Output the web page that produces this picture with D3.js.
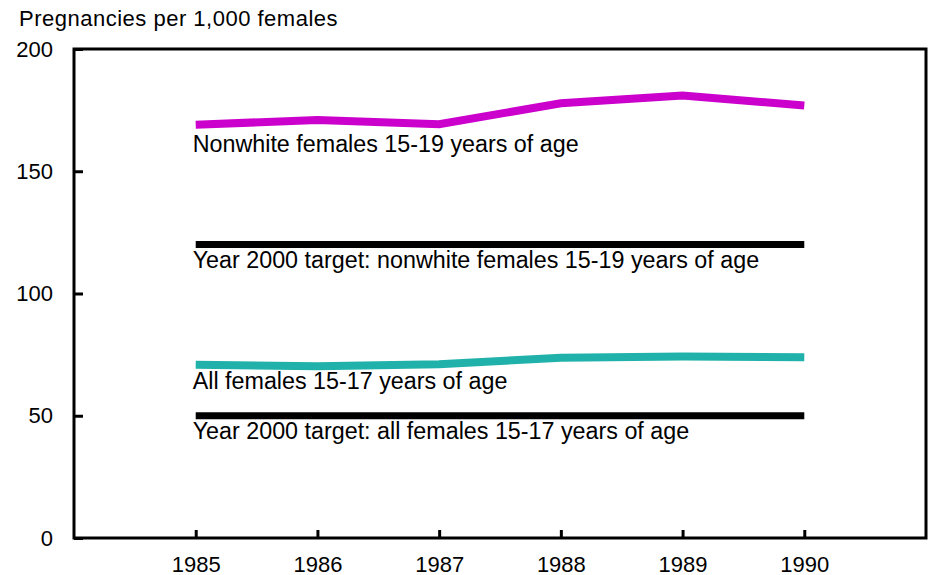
<!DOCTYPE html>
<html>
<head>
<meta charset="utf-8">
<script src="https://cdn.jsdelivr.net/npm/d3@7"></script>
<style>
  body { margin: 0; background: #fff; }
  svg text { font-family: "Liberation Sans", Arial, sans-serif; fill: #000; }
</style>
</head>
<body>
<div id="chart"></div>
<script>
const years = [1985, 1986, 1987, 1988, 1989, 1990];
const nonwhite = [169, 171, 169.2, 177.8, 181, 176.9];
const allFemales = [70.9, 70.2, 71.1, 73.7, 74.2, 73.9];
const targetNonwhite = 120;
const targetAll = 50;
const yTicks = [0, 50, 100, 150, 200];
const labels = [
  "Nonwhite females 15-19 years of age",
  "Year 2000 target: nonwhite females 15-19 years of age",
  "All females 15-17 years of age",
  "Year 2000 target: all females 15-17 years of age"
];

const svgWidth = 930;
const svgHeight = 575;
const plotLeft = 74, plotRight = 926, plotTop = 49, plotBottom = 538;

const svg = d3.select("#chart")
    .append("svg")
    .attr("width", svgWidth)
    .attr("height", svgHeight);

const xScale = d3.scaleLinear()
    .domain([1984, 1991])
    .range([plotLeft, plotRight]);

const yScale = d3.scaleLinear()
    .domain([0, 200])
    .range([plotBottom, plotTop]);

// title
svg.append("text")
    .attr("x", 19)
    .attr("y", 26)
    .style("font-size", "22px")
    .style("letter-spacing", "0.5px")
    .text("Pregnancies per 1,000 females");

// frame
svg.append("rect")
    .attr("x", plotLeft)
    .attr("y", plotTop)
    .attr("width", plotRight - plotLeft)
    .attr("height", plotBottom - plotTop)
    .attr("fill", "none")
    .attr("stroke", "#000")
    .attr("stroke-width", 3);

const yAxis = svg.append("g")
    .attr("transform", "translate(" + plotLeft + ",0)")
    .call(d3.axisLeft(yScale).tickValues(yTicks).tickSize(-9).tickPadding(21));
yAxis.select(".domain").remove();
yAxis.selectAll("line").attr("stroke-width", 3);
yAxis.selectAll("text").style("font-size", "22px").attr("font-family", null);

const xAxis = svg.append("g")
    .attr("transform", "translate(0," + plotBottom + ")")
    .call(d3.axisBottom(xScale).tickValues(years).tickFormat(d3.format("d")).tickSize(-8).tickPadding(18));
xAxis.select(".domain").remove();
xAxis.selectAll("line").attr("stroke-width", 3);
xAxis.selectAll("text").style("font-size", "22px").attr("font-family", null);

const line = d3.line()
    .x((d, i) => xScale(years[i]))
    .y(d => yScale(d));

const x0 = xScale(years[0]);
const x1 = xScale(years[years.length - 1]);

// target lines
[targetNonwhite, targetAll].forEach(v => {
  svg.append("line")
      .attr("x1", x0)
      .attr("x2", x1)
      .attr("y1", yScale(v))
      .attr("y2", yScale(v))
      .attr("stroke", "#000")
      .attr("stroke-width", 7);
});

svg.append("path")
    .datum(nonwhite)
    .attr("d", line)
    .attr("fill", "none")
    .attr("stroke", "#CC00CC")
    .attr("stroke-width", 8);

svg.append("path")
    .datum(allFemales)
    .attr("d", line)
    .attr("fill", "none")
    .attr("stroke", "#20B2AA")
    .attr("stroke-width", 8);

// labels
const labelY = [
  yScale(nonwhite[0]) + 27,
  yScale(targetNonwhite) + 23,
  yScale(allFemales[0]) + 24,
  yScale(targetAll) + 23
];
svg.selectAll(".lbl")
    .data(labels)
    .enter()
    .append("text")
    .attr("class", "lbl")
    .attr("x", x0 - 3)
    .attr("y", (d, i) => labelY[i])
    .style("font-size", "23.3px")
    .text(d => d);
</script>
</body>
</html>
